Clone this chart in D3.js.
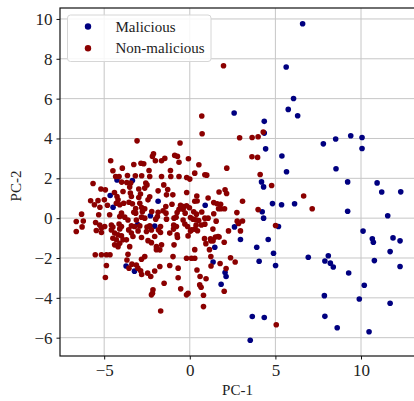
<!DOCTYPE html>
<html>
<head>
<meta charset="utf-8">
<script src="https://cdn.jsdelivr.net/npm/d3@7"></script>
<style>
  html, body { margin: 0; padding: 0; background: #fff; }
  svg { display: block; }
  text { font-family: "Liberation Serif", "DejaVu Serif", serif; fill: #222; }
</style>
</head>
<body>
<svg id="chart" width="414" height="401"></svg>
<script>
// PCA projection of samples: [PC-1, PC-2]
const malicious = [
  [6.59,9.76],[5.63,7.59],[6.06,6.01],[5.75,5.46],[6.30,5.14],[2.59,5.28],[4.35,4.86],[4.35,4.27],
  [4.43,3.48],[7.80,3.73],[8.52,3.97],[9.40,4.14],[10.06,4.05],[10.06,3.50],[5.38,3.12],[5.65,2.33],
  [8.54,2.48],[4.19,1.82],[4.31,1.57],[9.22,1.82],[10.94,1.77],[11.21,1.31],[12.32,1.32],
  [0.90,0.65],[4.83,0.73],[5.36,0.67],[6.12,0.72],[9.22,0.35],[4.23,0.32],[4.31,0.00],[11.56,0.12],
  [2.61,-0.44],[5.18,-0.42],[10.12,-0.65],[10.66,-1.04],[10.72,-1.21],[11.87,-0.99],[12.28,-1.14],
  [2.96,-1.07],[4.58,-1.07],[1.46,-1.46],[3.91,-1.46],[11.70,-1.68],[4.89,-1.76],[6.92,-1.96],
  [8.09,-1.89],[1.36,-2.20],[4.05,-2.16],[7.89,-2.15],[8.21,-2.26],[8.38,-2.45],[10.78,-2.13],
  [5.01,-2.38],[12.28,-2.43],[2.06,-2.73],[2.12,-2.93],[9.28,-2.75],[1.83,-3.32],[10.19,-3.37],
  [7.86,-3.89],[9.90,-4.06],[11.70,-4.27],[3.65,-4.94],[4.35,-4.99],[7.89,-4.93],[8.61,-5.50],
  [10.47,-5.70],[3.53,-6.13],
  [-4.25,1.92],[-3.35,1.89],[-4.65,1.14],[-4.48,0.55],[-1.85,0.85],[-2.30,0.12],[-3.04,-0.32],
  [-2.05,-0.40],[-3.72,-2.40],[-3.23,-2.66]
];

const nonMalicious = [
  [1.97,7.65],[0.70,5.13],[0.72,4.24],[2.91,4.04],[3.64,4.05],[3.99,4.09],[4.29,4.32],[3.63,3.08],
  [3.96,3.05],[2.16,2.51],[0.88,2.18],[0.99,2.16],[4.11,2.19],[0.53,2.68],[0.29,2.26],[4.78,1.64],
  [1.71,1.31],[2.06,1.42],[2.15,1.24],[1.07,1.01],[6.65,1.11],
  [-3.08,3.88],[-0.57,3.77],[-2.12,3.23],[-2.18,3.10],[-0.88,3.15],[-0.72,3.10],[-4.62,2.88],
  [-2.69,2.73],[-2.85,2.76],[-3.27,2.69],[-1.46,3.00],[-1.65,2.88],[-2.01,2.88],[-0.08,2.98],
  [-0.63,2.81],[-3.94,2.51],[-2.38,2.39],[-4.49,2.38],[-1.13,2.39],
  [-4.33,2.09],[-4.13,2.09],[-3.64,2.14],[-3.18,2.13],[-2.81,2.13],[-2.34,2.09],[-1.65,2.09],
  [-1.11,2.09],[-0.63,2.09],[-0.18,2.04],[0.00,1.96],
  [-5.65,1.74],[-3.98,1.81],[-3.68,1.79],[-3.45,1.76],[-2.57,1.76],[-2.50,1.67],[-1.52,1.67],
  [-5.19,1.46],[-4.93,1.42],[-3.51,1.56],[-2.98,1.46],[-2.63,1.51],[-1.85,1.37],[-1.29,1.44],
  [-4.40,1.29],[-4.25,1.09],[-3.90,1.34],[-3.47,1.26],[-3.41,1.09],[-2.88,1.21],[-2.98,1.04],
  [-2.34,1.07],[-1.36,1.17],[-0.99,1.17],[-2.44,0.92],[-0.18,1.29],[0.41,1.11],
  [-5.79,0.87],[-5.36,0.88],[-4.99,0.92],[-4.19,0.92],[-4.29,0.75],[-4.09,0.67],[-3.86,0.75],
  [-3.55,0.80],[-3.35,0.72],[-2.92,0.75],[-2.81,0.53],[-1.04,0.70],[-0.54,0.65],[-0.35,0.58],
  [-0.19,0.62],[-0.02,0.52],[0.29,0.85],[0.43,0.86],
  [-5.57,0.67],[-5.25,0.55],[-4.81,0.65],[-1.40,0.58],[-1.56,0.37],[-1.39,0.25],[-3.16,0.48],
  [-3.27,0.30],[-3.16,0.25],[-2.63,0.47],[-2.77,0.32],[-2.22,0.33],[-0.63,0.45],[-0.74,0.28],
  [-0.39,0.45],[-0.27,0.25],[0.23,0.32],[0.39,0.20],[0.70,0.31],
  [-6.32,0.20],[-6.63,-0.17],[-6.22,-0.14],[-4.68,0.17],[-5.32,0.17],[-3.99,0.25],[-4.09,0.08],
  [-3.80,0.05],[-2.82,0.05],[-1.89,0.08],[-1.99,-0.05],[-1.36,-0.05],[-0.92,0.00],[-0.80,0.05],
  [0.04,0.03],[0.19,-0.05],[0.36,-0.08],[0.52,-0.12],
  [-5.50,-0.22],[-5.26,-0.34],[-5.16,-0.49],[-4.97,-0.42],[-4.58,-0.34],[-4.49,-0.45],[-4.58,-0.59],
  [-4.13,-0.29],[-3.99,-0.42],[-4.09,-0.54],[-3.41,-0.39],[-3.22,-0.42],[-2.92,-0.39],[-2.50,-0.45],
  [-2.34,-0.39],[-1.71,-0.42],[-1.83,-0.59],[-0.95,-0.55],[-0.78,-0.42],[-0.94,-0.35],[-0.29,-0.29],
  [-0.13,-0.42],[0.37,-0.35],[0.68,-0.34],[0.88,-0.30],
  [-3.61,-0.09],[-3.12,-0.09],[-2.63,0.00],[-1.85,0.30],[-0.39,-0.09],
  [-3.57,-0.59],[-3.41,-0.75],[-3.32,-0.92],[-2.82,-0.97],[-3.02,-0.64],[-2.53,-0.67],[-2.24,-0.59],
  [-2.05,-0.92],[-1.17,-0.75],[-0.74,-0.84],[-0.72,-0.97],[0.10,-0.59],[0.29,-0.55],[0.45,-0.63],
  [-3.51,-1.43],[-1.95,-1.43],[-1.65,-1.34],[-1.75,-1.59],[-1.95,-1.58],[-0.92,-1.34],[-3.61,-1.81],
  [-2.63,-1.93],[-0.98,-1.93],[-0.19,-2.01],[0.10,-2.01],[0.29,-2.01],
  [-3.38,-2.31],[-3.12,-2.35],[-3.03,-2.51],[-2.87,-2.64],[-2.81,-2.83],[-2.46,-2.76],[-1.75,-2.43],
  [-1.17,-2.38],[-0.68,-2.51],[-2.28,-2.93],[-2.05,-2.65],[-0.68,-2.99],[-1.50,-3.27],[-2.15,-3.60],
  [-2.18,-3.77],[-2.24,-3.85],[-0.53,-3.55],[-0.19,-3.85],[-0.10,-3.77],[-1.70,-4.66],[0.42,-2.60],
  [-6.63,-0.67],[-6.29,-0.44],[-5.46,-0.62],[-5.16,-0.72],[-4.39,-0.75],[-4.19,-0.84],[-3.99,-0.89],
  [-4.49,-1.01],[-4.29,-1.09],[-4.09,-1.26],[-4.19,-1.43],[-4.39,-1.34],[-3.90,-1.09],[-3.70,-1.09],
  [-2.44,-1.13],[-2.24,-1.23],[-1.71,-0.72],[-0.10,-0.89],[0.04,-0.65],[0.29,-1.58],[-2.82,-2.06],
  [-3.55,-2.51],[-3.67,-2.10],[-5.52,-1.84],[-5.16,-1.84],[-4.87,-1.84],[-4.66,-1.84],[-4.87,-2.38],
  [-4.93,-2.98],
  [1.65,-0.92],[1.50,-0.95],[1.71,-0.95],[0.86,-1.03],[1.21,-1.04],[1.36,-1.14],[1.23,-1.14],
  [0.94,-1.28],[2.01,-1.21],[1.15,-1.58],[1.23,-1.93],[2.38,-1.99],[2.65,-2.20],[1.24,-2.40],
  [1.77,-2.28],[2.12,-2.53],[0.60,-2.93],[0.95,-3.04],[0.58,-3.35],[0.66,-3.47],[2.01,-3.67],
  [0.80,-3.87],[0.80,-4.44],[5.05,-5.35],[1.35,-0.55],[2.26,-0.64],[2.96,-0.64],[5.01,-0.37],
  [2.77,-0.15],[2.85,-0.27],[3.08,-0.14],[1.54,-0.15],[0.88,0.00],[1.07,0.00],[2.75,0.28],
  [3.99,0.43],[1.40,0.22],[1.68,0.47],[1.83,0.47],[2.03,0.47],[1.40,0.78],[1.60,0.72],[1.80,0.70],
  [3.08,0.85],[7.15,0.47]
];

const seriesNames = ["Malicious", "Non-malicious"];
const seriesColors = ["#000080", "#8b0000"];
const xTicks = [-5, 0, 5, 10];
const yTicks = [-6, -4, -2, 0, 2, 4, 6, 8, 10];
const xDomain = [-7.58, 13.27];
const yDomain = [-6.92, 10.55];

const serif = '"Liberation Serif", "DejaVu Serif", serif';
const svg = d3.select("#chart");
const plot = { left: 60, top: 8, right: 417, bottom: 356 };

const x = d3.scaleLinear().domain(xDomain).range([plot.left, plot.right]);
const y = d3.scaleLinear().domain(yDomain).range([plot.bottom, plot.top]);

const fmt = d => (d < 0 ? "\u2212" + Math.abs(d) : String(d));

// grid
const grid = svg.append("g");
grid.selectAll("line.gx").data(xTicks).join("line")
  .attr("x1", d => x(d)).attr("x2", d => x(d))
  .attr("y1", plot.top).attr("y2", plot.bottom)
  .attr("stroke", "#c6c6c6").attr("stroke-width", 1);
grid.selectAll("line.gy").data(yTicks).join("line")
  .attr("y1", d => y(d)).attr("y2", d => y(d))
  .attr("x1", plot.left).attr("x2", plot.right)
  .attr("stroke", "#c6c6c6").attr("stroke-width", 1);

// points: malicious first, non-malicious drawn over it
const groups = [malicious, nonMalicious];
groups.forEach((pts, i) => {
  svg.append("g").selectAll("circle").data(pts).join("circle")
    .attr("cx", d => x(d[0])).attr("cy", d => y(d[1]))
    .attr("r", 2.8).attr("fill", seriesColors[i]);
});

// frame
svg.append("rect")
  .attr("x", plot.left).attr("y", plot.top)
  .attr("width", plot.right - plot.left).attr("height", plot.bottom - plot.top)
  .attr("fill", "none").attr("stroke", "#111").attr("stroke-width", 1.2);

// axes
const xAxis = d3.axisBottom(x).tickValues(xTicks).tickFormat(fmt).tickSize(3.5).tickPadding(4);
const yAxis = d3.axisLeft(y).tickValues(yTicks).tickFormat(fmt).tickSize(3.5).tickPadding(4);

const gx = svg.append("g").attr("transform", `translate(0,${plot.bottom})`).call(xAxis);
const gy = svg.append("g").attr("transform", `translate(${plot.left},0)`).call(yAxis);
[gx, gy].forEach(g => {
  g.attr("font-family", serif);
  g.select(".domain").remove();
  g.selectAll(".tick line").attr("stroke", "#111").attr("stroke-width", 1);
  g.selectAll(".tick text").attr("fill", "#222").style("font-size", "17px")
    .style("font-family", serif);
});

// axis titles
svg.append("text").attr("x", (plot.left + plot.right) / 2 - 1).attr("y", 395)
  .attr("text-anchor", "middle").style("font-family", serif).style("font-size", "15px").text("PC-1");
svg.append("text").attr("transform", `translate(21,${(plot.top + plot.bottom) / 2 + 4}) rotate(-90)`)
  .attr("text-anchor", "middle").style("font-family", serif).style("font-size", "15px").text("PC-2");

// legend
const legend = svg.append("g");
legend.append("rect").attr("x", 67.5).attr("y", 15).attr("width", 143.5).attr("height", 46.5)
  .attr("rx", 3).attr("fill", "#fff").attr("fill-opacity", 0.85)
  .attr("stroke", "#d6d6d6").attr("stroke-width", 1);
seriesNames.forEach((name, i) => {
  const cy = 26.5 + i * 21.7;
  legend.append("circle").attr("cx", 88).attr("cy", cy).attr("r", 3.2).attr("fill", seriesColors[i]);
  legend.append("text").attr("x", 115.5).attr("y", cy + 5)
    .style("font-family", serif).style("font-size", "15px").text(name);
});
</script>
</body>
</html>
